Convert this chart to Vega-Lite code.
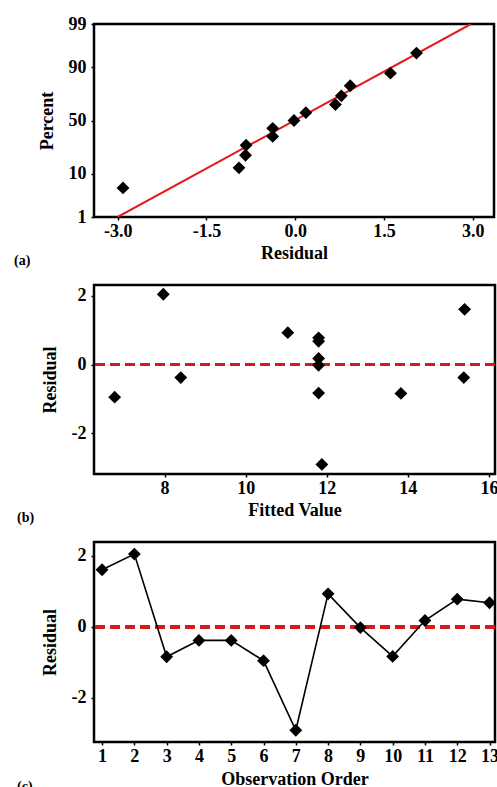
{
  "$schema": "https://vega.github.io/schema/vega-lite/v6.json",
  "padding": {"left": 12, "top": 13, "right": 4, "bottom": 0},
  "background": "white",
  "bounds": "flush",
  "spacing": 68,
  "config": {
    "font": "Liberation Serif",
    "view": {"stroke": "black", "strokeWidth": 2.5},
    "axis": {"domain": false, "grid": false, "labelFont": "Liberation Serif", "labelFontSize": 18, "labelFontWeight": "bold", "labelColor": "black", "titleFont": "Liberation Serif", "titleFontSize": 18, "titleFontWeight": "bold", "titleColor": "black", "tickColor": "black", "tickSize": 3, "tickWidth": 1.5, "labelPadding": 2, "labelFlush": false, "labelOverlap": false},
    "title": {"font": "Liberation Serif", "fontSize": 14, "fontWeight": "bold", "color": "black"}
  },
  "datasets": {
    "res": [
      {"obs": 1, "fitted": 15.40, "residual": 1.61, "z": 1.141},
      {"obs": 2, "fitted": 7.97, "residual": 2.05, "z": 1.625},
      {"obs": 3, "fitted": 13.83, "residual": -0.84, "z": -0.837},
      {"obs": 4, "fitted": 8.40, "residual": -0.38, "z": -0.383},
      {"obs": 5, "fitted": 15.38, "residual": -0.38, "z": -0.189},
      {"obs": 6, "fitted": 6.77, "residual": -0.95, "z": -1.141},
      {"obs": 7, "fitted": 11.88, "residual": -2.91, "z": -1.625},
      {"obs": 8, "fitted": 11.04, "residual": 0.93, "z": 0.837},
      {"obs": 9, "fitted": 11.80, "residual": -0.02, "z": 0},
      {"obs": 10, "fitted": 11.80, "residual": -0.83, "z": -0.594},
      {"obs": 11, "fitted": 11.80, "residual": 0.18, "z": 0.189},
      {"obs": 12, "fitted": 11.80, "residual": 0.78, "z": 0.594},
      {"obs": 13, "fitted": 11.80, "residual": 0.68, "z": 0.383}
    ],
    "fitline": [
      {"residual": -3.0, "z": -2.326},
      {"residual": 2.97, "z": 2.326}
    ]
  },
  "vconcat": [
    {
      "width": 400,
      "height": 193,
      "title": {"text": "(a)", "orient": "bottom", "anchor": "start", "frame": "bounds", "offset": 0, "dx": -24, "dy": -8},
      "layer": [
        {
          "data": {"name": "fitline"},
          "mark": {"type": "line", "color": "#e31a1c", "strokeWidth": 2, "clip": true},
          "encoding": {
            "x": {"field": "residual", "type": "quantitative", "scale": {"domain": [-3.40, 3.36], "nice": false, "zero": false}, "axis": {"values": [-3, -1.5, 0, 1.5, 3], "labelExpr": "replace(format(datum.value, '.1f'), '\u2212', '-')", "title": "Residual", "titlePadding": 4, "labelOverlap": false}},
            "y": {"field": "z", "type": "quantitative", "scale": {"domain": [-2.326, 2.326], "nice": false, "zero": false}, "axis": {"values": [-2.326, -1.2816, 0, 1.2816, 2.326], "labelExpr": "datum.value < -2 ? '1' : datum.value < -1 ? '10' : datum.value < 1 ? '50' : datum.value < 2 ? '90' : '99'", "title": "Percent", "titlePadding": 12, "labelPadding": 5, "labelOverlap": false}}
          }
        },
        {
          "data": {"name": "res"},
          "mark": {"type": "point", "shape": "diamond", "filled": true, "color": "black", "size": 165, "opacity": 1},
          "encoding": {
            "x": {"field": "residual", "type": "quantitative"},
            "y": {"field": "z", "type": "quantitative"}
          }
        }
      ]
    },
    {
      "width": 401,
      "height": 189,
      "title": {"text": "(b)", "orient": "bottom", "anchor": "start", "frame": "bounds", "offset": 0, "dx": -24, "dy": -8},
      "data": {"name": "res"},
      "layer": [
        {
          "mark": {"type": "rule", "color": "#d7191c", "strokeWidth": 3, "strokeDash": [10, 5]},
          "encoding": {"y": {"datum": 0}}
        },
        {
          "mark": {"type": "point", "shape": "diamond", "filled": true, "color": "black", "size": 165, "opacity": 1},
          "encoding": {
            "x": {"field": "fitted", "type": "quantitative", "scale": {"domain": [6.26, 16.15], "nice": false, "zero": false}, "axis": {"values": [8, 10, 12, 14, 16], "title": "Fitted Value", "titlePadding": 4, "labelOverlap": false}},
            "y": {"field": "residual", "type": "quantitative", "scale": {"domain": [-3.19, 2.32], "nice": false, "zero": false}, "axis": {"values": [-2, 0, 2], "labelExpr": "replace(format(datum.value, 'd'), '\u2212', '-')", "title": "Residual", "titlePadding": 12, "labelPadding": 5, "labelOverlap": false}}
          }
        }
      ]
    },
    {
      "width": 401,
      "height": 200,
      "title": {"text": "(c)", "orient": "bottom", "anchor": "start", "frame": "bounds", "offset": 0, "dx": -24, "dy": -8},
      "data": {"name": "res"},
      "layer": [
        {
          "mark": {"type": "rule", "color": "#d7191c", "strokeWidth": 3, "strokeDash": [10, 5]},
          "encoding": {"y": {"datum": 0}}
        },
        {
          "mark": {"type": "line", "color": "black", "strokeWidth": 1.6, "point": {"shape": "diamond", "filled": true, "color": "black", "size": 165, "opacity": 1}},
          "encoding": {
            "x": {"field": "obs", "type": "quantitative", "scale": {"domain": [0.75, 13.17], "nice": false, "zero": false}, "axis": {"values": [1, 2, 3, 4, 5, 6, 7, 8, 9, 10, 11, 12, 13], "title": "Observation Order", "titlePadding": 5, "labelOverlap": false, "labelSeparation": 0}},
            "y": {"field": "residual", "type": "quantitative", "scale": {"domain": [-3.24, 2.39], "nice": false, "zero": false}, "axis": {"values": [-2, 0, 2], "labelExpr": "replace(format(datum.value, 'd'), '\u2212', '-')", "title": "Residual", "titlePadding": 12, "labelPadding": 5, "labelOverlap": false}}
          }
        }
      ]
    }
  ]
}
